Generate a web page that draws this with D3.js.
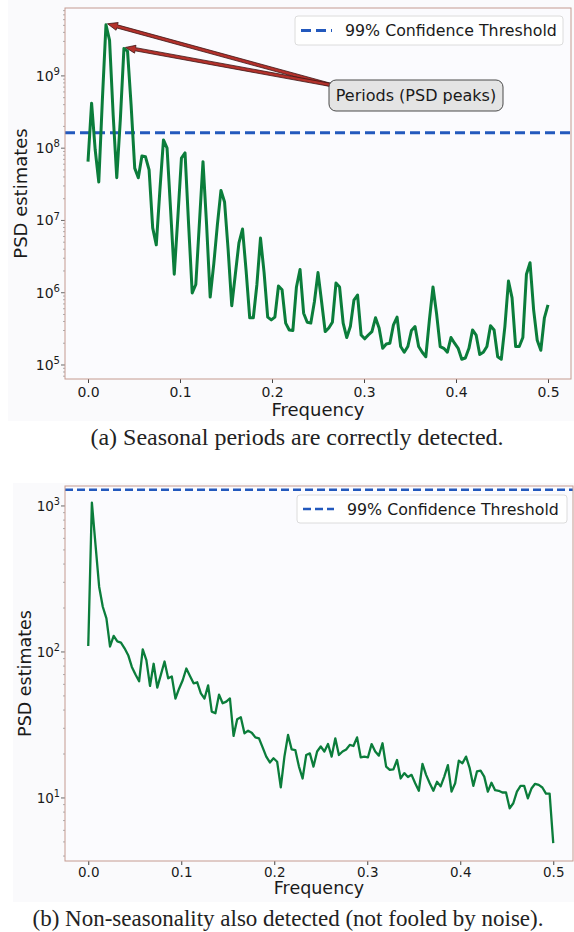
<!DOCTYPE html>
<html>
<head>
<meta charset="utf-8">
<script src="https://cdn.jsdelivr.net/npm/d3@7"></script>
<style>
  body { margin: 0; background: #fff; }
  svg { display: block; }
  text { font-family: "DejaVu Sans", sans-serif; fill: #1a1a1a; }
  .caption { font-family: "Liberation Serif", "Times New Roman", serif; fill: #222; }
</style>
</head>
<body>
<svg id="fig" width="574" height="932"></svg>
<script>
// Frequency axis ticks (both panels)
var freqTicks = [0, 0.1, 0.2, 0.3, 0.4, 0.5];

// Panel (a): seasonal series periodogram, 129 bins from 0 to 0.5
var seasonalPsd = [
  6.5e7, 4.2e8, 9.5e7, 3.4e7, 4.7e8, 5.1e9, 3.1e9, 2.9e8, 3.9e7, 2.5e8,
  2.4e9, 2.2e9, 3.9e8, 5.3e7, 3.9e7, 7.8e7, 7.6e7, 5.0e7, 7.9e6, 4.6e6,
  2.6e7, 1.3e8, 1.0e8, 1.35e7, 1.8e6, 1.1e7, 7.3e7, 8.6e7, 8.7e6, 9.9e5,
  1.3e6, 9.2e6, 6.5e7, 8.7e6, 8.7e5, 2.5e6, 8.7e6, 2.6e7, 1.8e7, 3.9e6,
  6.6e5, 1.8e6, 4.9e6, 7.6e6, 2.0e6, 4.5e5, 4.5e5, 1.3e6, 5.7e6, 1.9e6,
  4.6e5, 4.2e5, 4.6e5, 1.24e6, 1.1e6, 3.8e5, 3.05e5, 3.0e5, 1.2e6, 2.1e6,
  5.2e5, 3.9e5, 3.8e5, 7.5e5, 1.9e6, 7.5e5, 2.9e5, 3.25e5, 3.9e5, 1.36e6,
  1.2e6, 3.8e5, 2.4e5, 3.4e5, 7.9e5, 9.3e5, 2.6e5, 2.3e5, 2.6e5, 2.9e5,
  4.5e5, 3.25e5, 1.7e5, 1.95e5, 2.0e5, 3.6e5, 4.6e5, 1.8e5, 1.5e5, 1.8e5,
  3.0e5, 3.4e5, 1.8e5, 1.5e5, 1.3e5, 4.2e5, 1.2e6, 5.1e5, 1.8e5, 1.7e5,
  1.5e5, 2.4e5, 2.0e5, 1.7e5, 1.2e5, 1.25e5, 1.7e5, 3.05e5, 2.6e5, 1.4e5,
  1.5e5, 1.8e5, 3.5e5, 3.05e5, 1.3e5, 1.2e5, 3.4e5, 1.45e6, 8.5e5, 1.8e5,
  1.8e5, 2.4e5, 1.8e6, 2.6e6, 5.8e5, 2.2e5, 1.6e5, 4.5e5, 6.8e5
];
var seasonalThreshold = 1.63e8;
var seasonalYLim = [6.4e4, 8.7e9];
var seasonalPeaks = [5, 10];   // bins pointed at by the annotation

// Panel (b): noise series periodogram
var noisePsd = [
  110, 1054, 541, 280, 204, 170, 109, 129, 118, 116,
  106, 95, 79, 70, 63, 104, 88, 58.5, 83, 57,
  70, 86, 66, 68, 48, 56, 64, 77, 68.5, 61,
  62, 52, 48, 59, 39, 38, 51, 44.5, 45.7, 48,
  26.6, 34.6, 35.7, 27.7, 28.9, 28, 26, 25.6, 22.2, 19.2,
  17.5, 18.7, 17.7, 11.8, 19.2, 27, 21.5, 21.3, 16.4, 13.6,
  19.7, 20.2, 16.4, 20.8, 22.5, 20.8, 23.4, 19.2, 25.6, 19.7,
  20.8, 21.5, 23.1, 22.7, 26, 19, 19.2, 19, 23.4, 20.8,
  19.5, 23.7, 16.4, 15.6, 15.7, 18.2, 13.6, 14.8, 13.9, 14.4,
  12.6, 11.2, 17.1, 14.4, 12.6, 11.2, 12.9, 12.0, 14.0, 16.8,
  11.05, 12.6, 18.0, 17.3, 19.2, 16.0, 12.1, 15.2, 15.4, 14.0,
  11.05, 12.7, 11.3, 11.2, 10.9, 10.9, 8.5, 9.2, 11.05, 12.1,
  12.1, 9.95, 11.6, 12.5, 12.3, 11.8, 10.7, 10.7, 4.9
];
var noiseThreshold = 1290;
var noiseYLim = [3.7, 1370];

var legendLabel = "99% Confidence Threshold";
var annotationLabel = "Periods (PSD peaks)";
var captions = [
  "(a) Seasonal periods are correctly detected.",
  "(b) Non-seasonality also detected (not fooled by noise)."
];

var svg = d3.select("#fig");
var lineColor = "#0b7d3b",
    threshColor = "#2359bd",
    spineColor = "#c49a90";

// periodogram bins k/256
function binFreqs(n) {
  return d3.range(n).map(function (i) { return i / 256; });
}

function drawPanel(p) {
  var g = svg.append("g");
  var freqs = binFreqs(p.data.length);

  g.append("rect")
    .attr("x", p.bg[0]).attr("y", p.bg[1])
    .attr("width", p.bg[2] - p.bg[0]).attr("height", p.bg[3] - p.bg[1])
    .attr("fill", "#fafafc");

  var x = d3.scaleLinear().domain([-0.025, 0.525]).range([p.left, p.xEnd]);
  var y = d3.scaleLog().domain(p.yLim).range([p.bottom, p.top]);

  g.append("rect")
    .attr("x", p.left).attr("y", p.top)
    .attr("width", p.right - p.left).attr("height", p.bottom - p.top)
    .attr("fill", "#fbfbfe");

  var clipId = "clip" + p.id;
  svg.append("clipPath").attr("id", clipId)
    .append("rect")
    .attr("x", p.left).attr("y", p.top)
    .attr("width", p.right - p.left).attr("height", p.bottom - p.top);

  // x axis
  var xAxis = g.append("g")
    .attr("transform", "translate(0," + p.bottom + ")")
    .call(d3.axisBottom(x).tickValues(freqTicks).tickFormat(d3.format(".1f"))
      .tickSize(4).tickPadding(p.xPad));
  xAxis.select(".domain").remove();
  xAxis.selectAll("line").attr("stroke", "#444");
  xAxis.selectAll("text")
    .attr("font-family", "DejaVu Sans, sans-serif")
    .attr("font-size", p.tickFont).attr("fill", "#1a1a1a")
    .attr("dy", "0.75em");

  // y axis: decades with superscript labels
  var d0 = Math.ceil(Math.log10(p.yLim[0])),
      d1 = Math.floor(Math.log10(p.yLim[1]));
  var majors = d3.range(d0, d1 + 1);
  var minors = [];
  for (var k = d0 - 1; k <= d1; k++) {
    for (var m = 2; m < 10; m++) {
      var v = m * Math.pow(10, k);
      if (v > p.yLim[0] && v < p.yLim[1]) minors.push(v);
    }
  }
  g.selectAll(".ymin").data(minors).enter().append("line")
    .attr("x1", p.left - 2).attr("x2", p.left)
    .attr("y1", function (d) { return y(d); }).attr("y2", function (d) { return y(d); })
    .attr("stroke", "#777").attr("stroke-width", 0.6);
  g.selectAll(".ymaj").data(majors).enter().append("line")
    .attr("x1", p.left - 4).attr("x2", p.left)
    .attr("y1", function (d) { return y(Math.pow(10, d)); })
    .attr("y2", function (d) { return y(Math.pow(10, d)); })
    .attr("stroke", "#444").attr("stroke-width", 0.8);
  var yl = g.selectAll(".ylab").data(majors).enter().append("text")
    .attr("x", p.left - 5)
    .attr("y", function (d) { return y(Math.pow(10, d)) + p.tickFont * 0.36; })
    .attr("text-anchor", "end")
    .attr("font-size", p.tickFont);
  yl.append("tspan").text("10");
  yl.append("tspan").attr("dy", -p.tickFont * 0.42)
    .attr("font-size", p.tickFont * 0.72)
    .text(function (d) { return d; });

  // threshold
  g.append("line")
    .attr("clip-path", "url(#" + clipId + ")")
    .attr("x1", p.left).attr("x2", p.right)
    .attr("y1", y(p.threshold)).attr("y2", y(p.threshold))
    .attr("stroke", threshColor).attr("stroke-width", p.threshWidth)
    .attr("stroke-dasharray", p.dash);

  // psd line
  var line = d3.line()
    .x(function (d, i) { return x(freqs[i]); })
    .y(function (d) { return y(d); });
  g.append("path")
    .datum(p.data)
    .attr("clip-path", "url(#" + clipId + ")")
    .attr("d", line)
    .attr("fill", "none")
    .attr("stroke", lineColor)
    .attr("stroke-width", p.lineWidth)
    .attr("stroke-linejoin", "round");

  // spines
  g.append("rect")
    .attr("x", p.left).attr("y", p.top)
    .attr("width", p.right - p.left).attr("height", p.bottom - p.top)
    .attr("fill", "none").attr("stroke", spineColor).attr("stroke-width", 1);

  // axis titles
  g.append("text")
    .attr("x", (p.left + p.right) / 2).attr("y", p.xTitleY)
    .attr("text-anchor", "middle").attr("font-size", p.titleFont)
    .text("Frequency");
  g.append("text")
    .attr("transform", "translate(" + p.yTitleX + "," + (p.top + p.bottom) / 2 + ") rotate(-90)")
    .attr("text-anchor", "middle").attr("font-size", p.titleFont)
    .text("PSD estimates");

  // legend
  var L = p.legend;
  g.append("rect")
    .attr("x", L.x).attr("y", L.y).attr("width", L.w).attr("height", L.h)
    .attr("rx", 3).attr("fill", "#ffffff").attr("fill-opacity", 0.85)
    .attr("stroke", "#dcdcdc").attr("stroke-width", 1);
  g.append("line")
    .attr("x1", L.x + 6).attr("x2", L.x + 37)
    .attr("y1", L.y + L.h / 2).attr("y2", L.y + L.h / 2)
    .attr("stroke", threshColor).attr("stroke-width", p.threshWidth)
    .attr("stroke-dasharray", p.dash);
  g.append("text")
    .attr("x", L.x + 50).attr("y", L.y + L.h / 2 + 5.8)
    .attr("font-size", L.font)
    .text(legendLabel);

  return { g: g, x: x, y: y, freqs: freqs };
}

// ---- panel (a)
var pa = drawPanel({
  id: "a", data: seasonalPsd, threshold: seasonalThreshold, yLim: seasonalYLim,
  bg: [8, 0, 574, 421],
  left: 65, right: 571, xEnd: 571, top: 8, bottom: 379,
  tickFont: 14, titleFont: 18, xTitleY: 416, yTitleX: 27, xPad: 3,
  lineWidth: 3, threshWidth: 3, dash: "10,5",
  legend: { x: 295, y: 16, w: 268, h: 29, font: 15.8 }
});

// annotation box with arrows to the two main peaks
var box = { x: 329, y: 80, w: 174, h: 31 };
var tail = [box.x + 2, box.y + 5];
seasonalPeaks.forEach(function (k) {
  var tip = [pa.x(pa.freqs[k]) + 1.5, pa.y(seasonalPsd[k]) - 1];
  var dx = tip[0] - tail[0], dy = tip[1] - tail[1],
      len = Math.sqrt(dx * dx + dy * dy),
      ux = dx / len, uy = dy / len, nx = -uy, ny = ux;
  var w = 1.6, hw = 4, hl = 10;
  var bx = tip[0] - ux * hl, by = tip[1] - uy * hl;
  var pts = [
    [tail[0] + nx * w, tail[1] + ny * w],
    [bx + nx * w, by + ny * w],
    [bx + nx * hw, by + ny * hw],
    tip,
    [bx - nx * hw, by - ny * hw],
    [bx - nx * w, by - ny * w],
    [tail[0] - nx * w, tail[1] - ny * w]
  ];
  pa.g.append("polygon")
    .attr("points", pts.map(function (q) { return q.join(","); }).join(" "))
    .attr("fill", "#b3312b").attr("stroke", "#3d1414").attr("stroke-width", 0.8)
    .attr("stroke-linejoin", "miter");
});
pa.g.append("rect")
  .attr("x", box.x).attr("y", box.y).attr("width", box.w).attr("height", box.h)
  .attr("rx", 7).attr("fill", "#e4e4e4").attr("stroke", "#4a4a4a").attr("stroke-width", 1);
pa.g.append("text")
  .attr("x", box.x + box.w / 2).attr("y", box.y + 21)
  .attr("text-anchor", "middle").attr("font-size", 16)
  .text(annotationLabel);

// ---- panel (b)
drawPanel({
  id: "b", data: noisePsd, threshold: noiseThreshold, yLim: noiseYLim,
  bg: [13, 483, 574, 902],
  left: 65, right: 573, xEnd: 576.5, top: 486, bottom: 861,
  tickFont: 13.5, titleFont: 17.5, xTitleY: 894, yTitleX: 31, xPad: 2,
  lineWidth: 2.3, threshWidth: 2.6, dash: "8,4",
  legend: { x: 297, y: 495, w: 270, h: 28, font: 15.8 }
});

// captions
svg.append("text").attr("class", "caption")
  .attr("x", 297).attr("y", 445).attr("text-anchor", "middle")
  .attr("font-size", 24).text(captions[0]);
svg.append("text").attr("class", "caption")
  .attr("x", 288).attr("y", 926).attr("text-anchor", "middle")
  .attr("font-size", 23).text(captions[1]);
</script>
</body>
</html>
